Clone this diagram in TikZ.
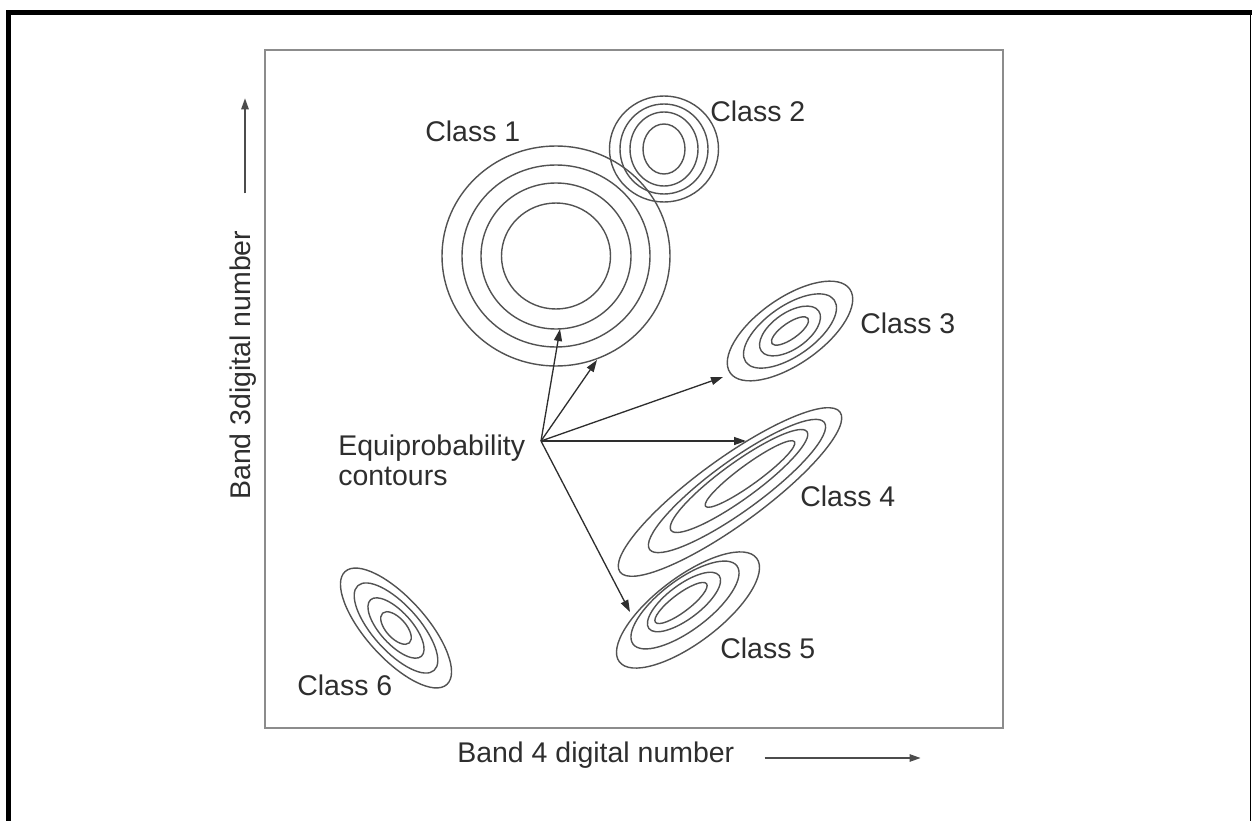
\documentclass[tikz,border=0pt]{standalone}
\usepackage{fontspec}
\setmainfont{Liberation Sans}
\usetikzlibrary{positioning,arrows.meta}
\colorlet{Frame}{black}
\colorlet{Axis}{black!45}
\colorlet{Contour}{black!68}
\colorlet{Ink}{black!82}
\tikzset{
	contour/.style={color=Contour, line width=0.8pt},
	plotbox/.style={rectangle, draw=Axis, line width=1.2pt, minimum width=14.76cm, minimum height=13.56cm, inner sep=0pt},
	lbl/.style={text=Ink, inner sep=0pt, font=\fontsize{16.2}{17.1}\selectfont},
	pointer/.style={draw=Ink, line width=0.75pt, -{Triangle[length=0.24cm,width=0.16cm]}},
	axisptr/.style={draw=black!70, line width=0.75pt, -{Triangle[length=0.22cm,width=0.15cm]}},
}

\begin{document}
\begin{tikzpicture}[x=0.02cm, y=-0.02cm]
	\useasboundingbox (0,0) rectangle (1252,821);
	% page frame
	\draw [Frame, line width=2.8pt] (8.5,821) -- (8.5,12.5) -- (1252,12.5);
	\draw [Frame, line width=0.85pt] (1250.5,12.5) -- (1250.5,821);
	\node (plot) [plotbox] at (634,389) {};
	% classes
	\foreach \rx/\ry in {54.5/53, 75/73, 94/91, 114/110}
		\draw [contour] (556,256) ellipse [x radius=\rx, y radius=\ry];
	\foreach \rx/\ry in {21/25, 34/37, 44/45, 54.5/53}
		\draw [contour] (664,149) ellipse [x radius=\rx, y radius=\ry];
	\foreach \a/\b in {22/8, 35/18, 54/25, 73/33}
		\draw [contour, shift={(790,331)}, rotate=35] (0,0) ellipse [x radius=\a, y radius=\b];
	\foreach \cx/\cy/\a/\b in {750/474/55/10, 739/481/84/18, 737/486/108/25, 730/492/136/33}
		\draw [contour, shift={(\cx,\cy)}, rotate=36] (0,0) ellipse [x radius=\a, y radius=\b];
	\foreach \cx/\cy/\a/\b in {681/603/32/9, 684/602/44/17, 685/605/65/25, 688/610/86/33}
		\draw [contour, shift={(\cx,\cy)}, rotate=37] (0,0) ellipse [x radius=\a, y radius=\b];
	\foreach \a/\b in {20/10, 38/16, 57/23, 76/30}
		\draw [contour, shift={(396,628)}, rotate=-48] (0,0) ellipse [x radius=\a, y radius=\b];
	\node (c1) [lbl, anchor=base west] at (425,141.7) {Class 1};
	\node (c2) [lbl, anchor=base west] at (710,121.7) {Class 2};
	\node (c3) [lbl, anchor=base west] at (860,333) {Class 3};
	\node (c4) [lbl, anchor=base west] at (800,506) {Class 4};
	\node (c5) [lbl, anchor=base west] at (720,658) {Class 5};
	\node (c6) [lbl, anchor=base west] at (297,695) {Class 6};
	% pointers
	\node (eq) [lbl, align=left, anchor=west] at (338,460) {Equiprobability\\contours};
	\coordinate (src) at (541,441);
	\coordinate (t1) at (560,329);
	\coordinate (t2) at (597,360);
	\coordinate (t3) at (723,377);
	\coordinate (t4) at (746,441);
	\coordinate (t5) at (630,612);
	\foreach \t in {t1,t2,t3,t4,t5}
		\draw [pointer] (src) -- (\t);
	% axes
	\node (xlab) [lbl, anchor=base west] at (457,762) {Band 4 digital number};
	\node (ylab) [lbl, rotate=90, anchor=base west] at (250,500) {Band 3digital number};
	\coordinate [above right=0.08cm and 0.6cm of xlab.base east] (xfrom);
	\coordinate [right=3.12cm of xfrom] (xto);
	\coordinate [above left=0.74cm and 0.1cm of ylab.base east] (yfrom);
	\coordinate [above=1.9cm of yfrom] (yto);
	\draw [axisptr] (xfrom) -- (xto);
	\draw [axisptr] (yfrom) -- (yto);
\end{tikzpicture}
\end{document}
